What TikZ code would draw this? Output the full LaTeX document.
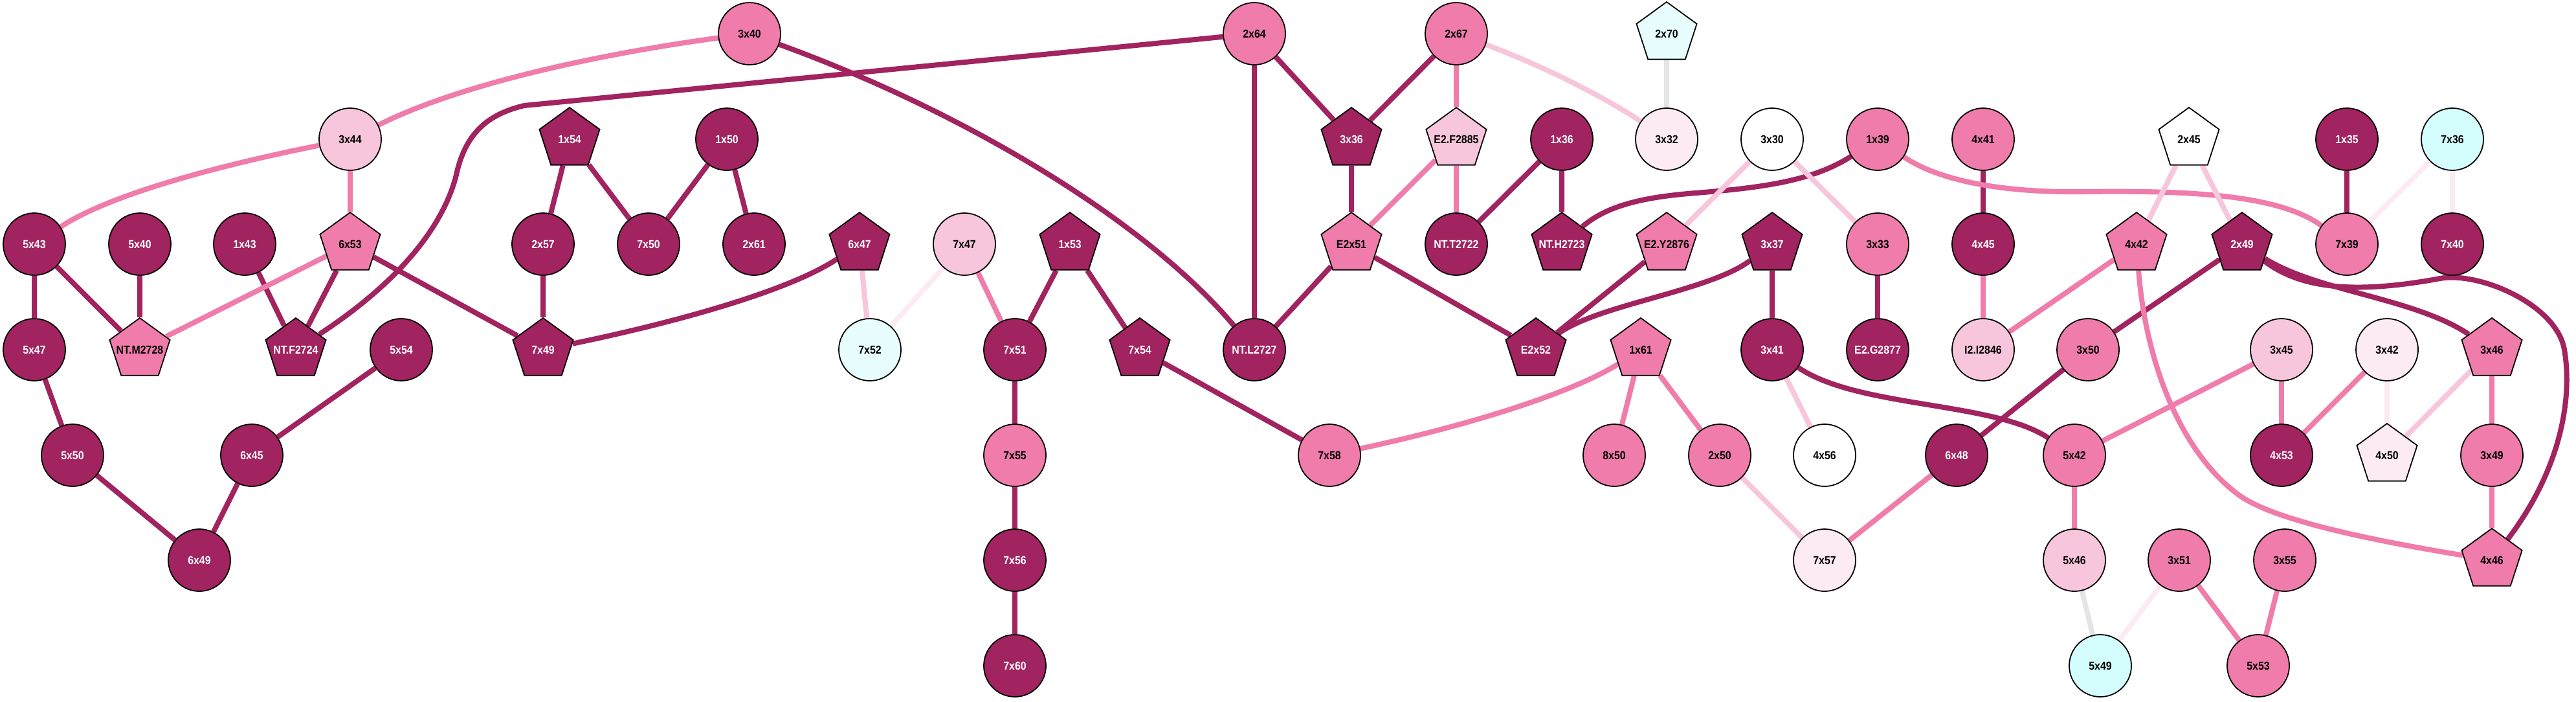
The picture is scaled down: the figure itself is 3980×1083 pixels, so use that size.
\documentclass[tikz,border=0pt]{standalone}
\usepackage{fontspec}
\setmainfont[FakeStretch=0.9]{Liberation Sans}
\usepackage{tikz}
\usetikzlibrary{shapes.geometric, backgrounds}
\definecolor{darkres}{HTML}{A1235F}
\definecolor{midres}{HTML}{F07CAB}
\definecolor{lightres}{HTML}{F8C6DC}
\definecolor{paleres}{HTML}{FCEBF3}
\definecolor{cyanres}{HTML}{D4FEFE}
\definecolor{iceres}{HTML}{E8FEFE}
\definecolor{greyedge}{HTML}{E5E5E5}

\begin{document}
\begin{tikzpicture}[
        x=0.5pt, y=-0.5pt,
        res/.style={circle, draw=black, line width=0.9pt, minimum size=48pt, inner sep=0pt, font=\fontsize{8.85}{10}\selectfont\bfseries},
        pent/.style={regular polygon, regular polygon sides=5, draw=black, line width=0.9pt, minimum size=49pt, inner xsep=-14pt, inner ysep=0pt, font=\fontsize{8.85}{10}\selectfont\bfseries},
        fdark/.style={fill=darkres, text=white},
        fmid/.style={fill=midres},
        flight/.style={fill=lightres},
        fpale/.style={fill=paleres},
        fwhite/.style={fill=white},
        fcyan/.style={fill=cyanres},
        fice/.style={fill=iceres},
        link/.style={line width=4pt},
        edark/.style={link, draw=darkres},
        emid/.style={link, draw=midres},
        elight/.style={link, draw=lightres},
        epale/.style={link, draw=paleres},
        egrey/.style={link, draw=greyedge}
    ]
        \useasboundingbox (0,0) rectangle (3980,1083);

        % Top row
        \node[res, fmid] (r3x40) at (1158,52) {3x40};
        \node[res, fmid] (r2x64) at (1938,52) {2x64};
        \node[res, fmid] (r2x67) at (2250,52) {2x67};
        \node[pent, fice] (r2x70) at (2575,52) {2x70};

        % Second row
        \node[res, flight] (r3x44) at (541,215) {3x44};
        \node[pent, fdark] (r1x54) at (880,215) {1x54};
        \node[res, fdark] (r1x50) at (1123,215) {1x50};
        \node[pent, fdark] (r3x36) at (2088,215) {3x36};
        \node[pent, flight] (e2f2885) at (2250,215) {E2.F2885};
        \node[res, fdark] (r1x36) at (2413,215) {1x36};
        \node[res, fpale] (r3x32) at (2575,215) {3x32};
        \node[res, fwhite] (r3x30) at (2738,215) {3x30};
        \node[res, fmid] (r1x39) at (2901,215) {1x39};
        \node[res, fmid] (r4x41) at (3064,215) {4x41};
        \node[pent, fwhite] (r2x45) at (3382,215) {2x45};
        \node[res, fdark] (r1x35) at (3626,215) {1x35};
        \node[res, fcyan] (r7x36) at (3789,215) {7x36};

        % Third row
        \node[res, fdark] (r5x43) at (53,377) {5x43};
        \node[res, fdark] (r5x40) at (216,377) {5x40};
        \node[res, fdark] (r1x43) at (378,377) {1x43};
        \node[pent, fmid] (r6x53) at (541,377) {6x53};
        \node[res, fdark] (r2x57) at (839,377) {2x57};
        \node[res, fdark] (r7x50) at (1002,377) {7x50};
        \node[res, fdark] (r2x61) at (1165,377) {2x61};
        \node[pent, fdark] (r6x47) at (1328,377) {6x47};
        \node[res, flight] (r7x47) at (1490,377) {7x47};
        \node[pent, fdark] (r1x53) at (1653,377) {1x53};
        \node[pent, fmid] (e2x51) at (2088,377) {E2x51};
        \node[res, fdark] (ntt2722) at (2250,377) {NT.T2722};
        \node[pent, fdark] (nth2723) at (2413,377) {NT.H2723};
        \node[pent, fmid] (e2y2876) at (2575,377) {E2.Y2876};
        \node[pent, fdark] (r3x37) at (2738,377) {3x37};
        \node[res, fmid] (r3x33) at (2901,377) {3x33};
        \node[res, fdark] (r4x45) at (3064,377) {4x45};
        \node[pent, fmid] (r4x42) at (3301,377) {4x42};
        \node[pent, fdark] (r2x49) at (3464,377) {2x49};
        \node[res, fmid] (r7x39) at (3626,377) {7x39};
        \node[res, fdark] (r7x40) at (3789,377) {7x40};

        % Fourth row
        \node[res, fdark] (r5x47) at (53,540) {5x47};
        \node[pent, fmid] (ntm2728) at (216,540) {NT.M2728};
        \node[pent, fdark] (ntf2724) at (457,540) {NT.F2724};
        \node[res, fdark] (r5x54) at (620,540) {5x54};
        \node[pent, fdark] (r7x49) at (839,540) {7x49};
        \node[res, fice] (r7x52) at (1344,540) {7x52};
        \node[res, fdark] (r7x51) at (1568,540) {7x51};
        \node[pent, fdark] (r7x54) at (1761,540) {7x54};
        \node[res, fdark] (ntl2727) at (1938,540) {NT.L2727};
        \node[pent, fdark] (e2x52) at (2373,540) {E2x52};
        \node[pent, fmid] (r1x61) at (2535,540) {1x61};
        \node[res, fdark] (r3x41) at (2738,540) {3x41};
        \node[res, fdark] (e2g2877) at (2901,540) {E2.G2877};
        \node[res, flight] (i2i2846) at (3064,540) {I2.I2846};
        \node[res, fmid] (r3x50) at (3226,540) {3x50};
        \node[res, flight] (r3x45) at (3525,540) {3x45};
        \node[res, fpale] (r3x42) at (3688,540) {3x42};
        \node[pent, fmid] (r3x46) at (3850,540) {3x46};

        % Fifth row
        \node[res, fdark] (r5x50) at (112,703) {5x50};
        \node[res, fdark] (r6x45) at (389,703) {6x45};
        \node[res, fmid] (r7x55) at (1568,703) {7x55};
        \node[res, fmid] (r7x58) at (2054,703) {7x58};
        \node[res, fmid] (r8x50) at (2494,703) {8x50};
        \node[res, fmid] (r2x50) at (2657,703) {2x50};
        \node[res, fwhite] (r4x56) at (2819,703) {4x56};
        \node[res, fdark] (r6x48) at (3023,703) {6x48};
        \node[res, fmid] (r5x42) at (3205,703) {5x42};
        \node[res, fdark] (r4x53) at (3525,703) {4x53};
        \node[pent, fpale] (r4x50) at (3688,703) {4x50};
        \node[res, fmid] (r3x49) at (3850,703) {3x49};

        % Sixth row
        \node[res, fdark] (r6x49) at (308,865) {6x49};
        \node[res, fdark] (r7x56) at (1568,865) {7x56};
        \node[res, fpale] (r7x57) at (2819,865) {7x57};
        \node[res, flight] (r5x46) at (3205,865) {5x46};
        \node[res, fmid] (r3x51) at (3367,865) {3x51};
        \node[res, fmid] (r3x55) at (3530,865) {3x55};
        \node[pent, fmid] (r4x46) at (3850,865) {4x46};

        % Bottom row
        \node[res, fdark] (r7x60) at (1568,1028) {7x60};
        \node[res, fcyan] (r5x49) at (3245,1028) {5x49};
        \node[res, fmid] (r5x53) at (3489,1028) {5x53};

        \begin{scope}[on background layer]
        % Strong links
        \draw[edark] (r5x43) -- (r5x47);
        \draw[edark] (r5x43) -- (ntm2728);
        \draw[edark] (r5x40) -- (ntm2728);
        \draw[edark] (r1x43) -- (ntf2724);
        \draw[edark] (r6x53) -- (ntf2724);
        \draw[edark] (r5x47) -- (r5x50);
        \draw[edark] (r5x50) -- (r6x49);
        \draw[edark] (r6x45) -- (r6x49);
        \draw[edark] (r5x54) -- (r6x45);
        \draw[edark] (r1x54) -- (r2x57);
        \draw[edark] (r1x54) -- (r7x50);
        \draw[edark] (r1x50) -- (r7x50);
        \draw[edark] (r1x50) -- (r2x61);
        \draw[edark] (r2x57) -- (r7x49);
        \draw[edark] (r6x53) -- (r7x49);
        \draw[edark] (r1x53) -- (r7x51);
        \draw[edark] (r1x53) -- (r7x54);
        \draw[edark] (r7x54) -- (r7x58);
        \draw[edark] (r7x51) -- (r7x55);
        \draw[edark] (r7x55) -- (r7x56);
        \draw[edark] (r7x56) -- (r7x60);
        \draw[edark] (r2x64) -- (ntl2727);
        \draw[edark] (r2x64) -- (r3x36);
        \draw[edark] (r2x67) -- (r3x36);
        \draw[edark] (r3x36) -- (e2x51);
        \draw[edark] (e2x51) -- (ntl2727);
        \draw[edark] (e2x51) -- (e2x52);
        \draw[edark] (r1x36) -- (ntt2722);
        \draw[edark] (r1x36) -- (nth2723);
        \draw[edark] (e2y2876) -- (e2x52);
        \draw[edark] (r3x37) -- (r3x41);
        \draw[edark] (r3x33) -- (e2g2877);
        \draw[edark] (r4x41) -- (r4x45);
        \draw[edark] (r2x49) -- (r3x50);
        \draw[edark] (r3x50) -- (r6x48);
        \draw[edark] (r1x35) -- (r7x39);
        \draw[edark] (ntf2724) .. controls (640,420) and (690,330) .. (705,270) .. controls (720,200) and (760,175) .. (810,163) -- (r2x64);
        \draw[edark] (r3x40) .. controls (1470,165) and (1760,330) .. (ntl2727);
        \draw[edark] (r6x47) .. controls (1210,455) and (1010,505) .. (r7x49);
        \draw[edark] (r1x39) .. controls (2800,280) and (2720,290) .. (2620,298) .. controls (2530,305) and (2480,320) .. (nth2723);
        \draw[edark] (r3x37) .. controls (2640,450) and (2470,470) .. (e2x52);
        \draw[edark] (r3x41) .. controls (2870,630) and (3080,620) .. (r5x42);
        \draw[edark] (r2x49) .. controls (3580,450) and (3730,460) .. (r3x46);
        \draw[edark] (r2x49) .. controls (3560,450) and (3650,452) .. (3770,430) .. controls (3830,419) and (3950,470) .. (3962,540) .. controls (3974,610) and (3960,720) .. (r4x46);

        % Medium links
        \draw[emid] (r3x44) -- (r6x53);
        \draw[emid] (r6x53) -- (ntm2728);
        \draw[emid] (r2x67) -- (e2f2885);
        \draw[emid] (e2f2885) -- (ntt2722);
        \draw[emid] (e2f2885) -- (e2x51);
        \draw[emid] (r7x47) -- (r7x51);
        \draw[emid] (r1x61) -- (r8x50);
        \draw[emid] (r1x61) -- (r2x50);
        \draw[emid] (r6x48) -- (r7x57);
        \draw[emid] (r4x45) -- (i2i2846);
        \draw[emid] (r4x42) -- (i2i2846);
        \draw[emid] (r3x45) -- (r5x42);
        \draw[emid] (r3x45) -- (r4x53);
        \draw[emid] (r3x42) -- (r4x53);
        \draw[emid] (r3x46) -- (r3x49);
        \draw[emid] (r3x49) -- (r4x46);
        \draw[emid] (r5x42) -- (r5x46);
        \draw[emid] (r3x51) -- (r5x53);
        \draw[emid] (r3x55) -- (r5x53);
        \draw[emid] (r3x40) .. controls (950,80) and (720,125) .. (r3x44);
        \draw[emid] (r3x44) .. controls (340,255) and (170,300) .. (r5x43);
        \draw[emid] (r1x39) .. controls (2990,275) and (3080,298) .. (3220,296) .. controls (3380,294) and (3520,300) .. (r7x39);
        \draw[emid] (r1x61) .. controls (2440,600) and (2300,650) .. (r7x58);
        \draw[emid] (r4x42) .. controls (3315,560) and (3370,700) .. (3460,765) .. controls (3520,808) and (3700,840) .. (r4x46);

        % Weak links
        \draw[elight] (r6x47) -- (r7x52);
        \draw[elight] (r3x30) -- (e2y2876);
        \draw[elight] (r3x30) -- (r3x33);
        \draw[elight] (r2x50) -- (r7x57);
        \draw[elight] (r3x41) -- (r4x56);
        \draw[elight] (r2x45) -- (r4x42);
        \draw[elight] (r2x45) -- (r2x49);
        \draw[elight] (r3x46) -- (r4x50);
        \draw[elight] (r2x67) .. controls (2380,100) and (2480,150) .. (r3x32);
        \draw[epale] (r7x47) -- (r7x52);
        \draw[epale] (r3x42) -- (r4x50);
        \draw[epale] (r3x51) -- (r5x49);
        \draw[epale] (r7x36) -- (r7x39);
        \draw[epale] (r7x36) -- (r7x40);
        \draw[egrey] (r2x70) -- (r3x32);
        \draw[egrey] (r5x46) -- (r5x49);
        \end{scope}
    \end{tikzpicture}
\end{document}
